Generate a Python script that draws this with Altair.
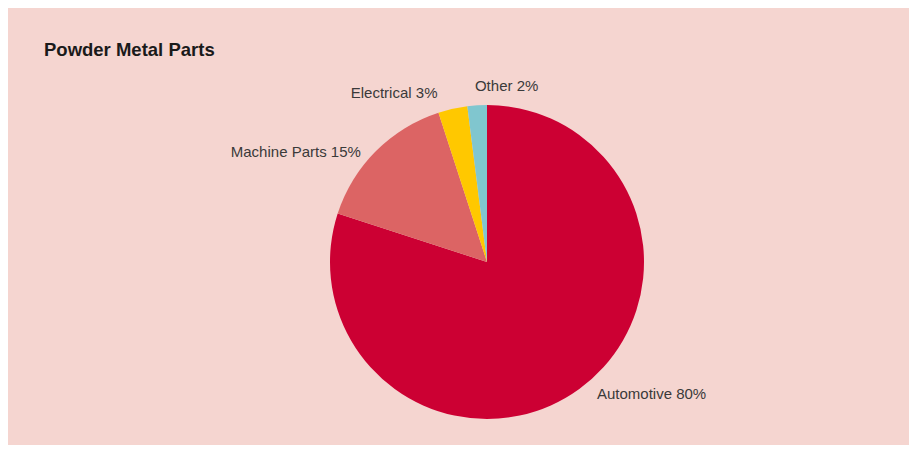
import altair as alt
import pandas as pd

title_text = ["Powder Metal Parts"]
categories = ["Automotive", "Machine Parts", "Electrical", "Other"]
shares = [80, 15, 3, 2]
colors = ["#cc0033", "#dc6464", "#ffc800", "#80c6cf"]
labels = [f"{c} {v}%" for c, v in zip(categories, shares)]

df = pd.DataFrame({
    "category": categories,
    "share": shares,
    "label": labels,
    "order": list(range(len(categories))),
})

CX, CY, R = 479, 254, 157
FONT = "Liberation Sans"

pie = alt.Chart(df).mark_arc(radius=R).encode(
    theta=alt.Theta("share:Q", stack=True),
    color=alt.Color("category:N", scale=alt.Scale(domain=categories, range=colors), legend=None),
    order=alt.Order("order:Q"),
    x=alt.value(CX),
    y=alt.value(CY),
)

text_base = (
    alt.Chart(df)
    .transform_window(cum="sum(share)", sort=[alt.SortField("order")], frame=[None, 0])
    .transform_joinaggregate(total="sum(share)")
    .transform_calculate(mid="(datum.cum - datum.share/2) / datum.total * 2 * PI")
)

label_style = {
    "Automotive": dict(radius=165, align="left", dx=13, dy=-1),
    "Machine Parts": dict(radius=160, align="right", dx=-13, dy=3),
    "Electrical": dict(radius=172, align="right", dx=-12, dy=-1),
    "Other": dict(radius=176, align="left", dx=-1, dy=0),
}

text_layers = []
for cat in categories:
    st = label_style[cat]
    text_layers.append(
        text_base.transform_filter(alt.datum.category == cat)
        .mark_text(radius=st["radius"], align=st["align"], baseline="middle",
                   dx=st["dx"], dy=st["dy"], font=FONT, fontSize=15, color="#3a3a3a")
        .encode(
            theta=alt.Theta("mid:Q", scale=None),
            text="label:N",
            x=alt.value(CX),
            y=alt.value(CY),
        )
    )

title = alt.Chart(pd.DataFrame({"t": title_text})).mark_text(
    align="left", baseline="alphabetic", font=FONT, fontSize=18.5,
    fontWeight="bold", color="#1a1a1a"
).encode(text="t:N", x=alt.value(36), y=alt.value(48))

chart = alt.layer(pie, *text_layers, title).properties(
    width=901, height=437, background="#f5d5d0", padding=0
).configure_view(stroke=None)

chart.save("out.html", embed_options={"renderer": "svg", "actions": False})
